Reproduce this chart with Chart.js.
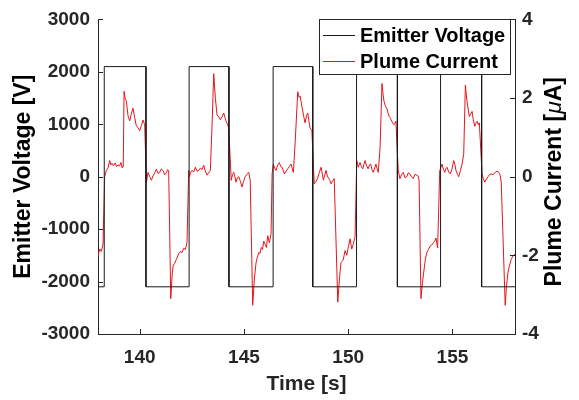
<!DOCTYPE html>
<html>
<head>
<meta charset="utf-8">
<script src="https://cdn.jsdelivr.net/npm/chart.js@4.4.1/dist/chart.umd.min.js"></script>
<style>
  body { margin: 0; background: #fff; }
  #wrap { width: 579px; height: 400px; }
</style>
</head>
<body>
<div id="wrap"><canvas id="Chart" width="579" height="400"></canvas></div>
<script>
// Emitter voltage square wave (V)
const voltTime = [138, 138.3, 138.3, 140.3, 140.3, 142.37, 142.37, 144.28, 144.28, 146.4, 146.4,
  148.3, 148.3, 150.4, 150.4, 152.36, 152.36, 154.43, 154.43, 156.4, 156.4, 158]
const voltValue = [-2100, -2100, 2100, 2100, -2100, -2100, 2100, 2100, -2100, -2100, 2100,
  2100, -2100, -2100, 2100, 2100, -2100, -2100, 2100, 2100, -2100, -2100]

// Plume current (uA)
const currTime = [
  138.00, 138.08, 138.16, 138.24, 138.32, 138.40, 138.48, 138.56, 138.62, 138.67, 138.74, 138.82, 138.89, 138.96,
  139.03, 139.10, 139.16, 139.21, 139.25, 139.30, 139.36, 139.44, 139.52, 139.60, 139.68, 139.76, 139.84, 139.92,
  140.00, 140.08, 140.16, 140.24, 140.32, 140.40, 140.48, 140.56, 140.64, 140.72, 140.80, 140.88, 140.96, 141.04,
  141.12, 141.20, 141.28, 141.34, 141.39, 141.49, 141.55, 141.60, 141.68, 141.76, 141.88, 141.96, 142.03, 142.11,
  142.19, 142.27, 142.35, 142.38, 142.44, 142.51, 142.59, 142.67, 142.75, 142.83, 142.91, 142.99, 143.07, 143.15,
  143.23, 143.31, 143.39, 143.47, 143.55, 143.63, 143.71, 143.79, 143.87, 143.95, 144.03, 144.09, 144.14, 144.20,
  144.27, 144.39, 144.45, 144.51, 144.56, 144.62, 144.68, 144.75, 144.83, 144.91, 144.98, 145.06, 145.14, 145.23,
  145.30, 145.42, 145.50, 145.58, 145.64, 145.71, 145.77, 145.83, 145.89, 145.95, 146.02, 146.08, 146.14, 146.22,
  146.30, 146.35, 146.41, 146.47, 146.54, 146.62, 146.70, 146.76, 146.83, 146.94, 147.02, 147.10, 147.18, 147.26,
  147.32, 147.37, 147.46, 147.58, 147.64, 147.70, 147.76, 147.82, 147.88, 147.93, 148.00, 148.06, 148.12, 148.17,
  148.26, 148.37, 148.45, 148.53, 148.61, 148.70, 148.76, 148.81, 148.88, 148.94, 149.00, 149.07, 149.12, 149.18,
  149.26, 149.33, 149.50, 149.58, 149.65, 149.71, 149.76, 149.85, 149.93, 150.01, 150.09, 150.17, 150.24, 150.33,
  150.41, 150.48, 150.57, 150.63, 150.70, 150.76, 150.81, 150.88, 150.96, 151.02, 151.08, 151.14, 151.20, 151.27,
  151.33, 151.39, 151.44, 151.53, 151.62, 151.67, 151.72, 151.78, 151.85, 151.91, 151.97, 152.03, 152.09, 152.15,
  152.20, 152.25, 152.29, 152.40, 152.48, 152.56, 152.64, 152.72, 152.81, 152.88, 152.96, 153.04, 153.12, 153.20,
  153.29, 153.35, 153.40, 153.49, 153.56, 153.64, 153.70, 153.77, 153.85, 153.92, 154.00, 154.08, 154.15, 154.21,
  154.29, 154.39, 154.45, 154.50, 154.57, 154.63, 154.68, 154.74, 154.82, 154.90, 154.98, 155.06, 155.12, 155.17,
  155.24, 155.30, 155.38, 155.46, 155.54, 155.62, 155.66, 155.70, 155.76, 155.81, 155.88, 155.94, 156.00, 156.07,
  156.12, 156.18, 156.24, 156.29, 156.42, 156.48, 156.55, 156.63, 156.71, 156.78, 156.86, 156.95, 157.05, 157.14,
  157.22, 157.28, 157.34, 157.53, 157.59, 157.66, 157.74, 157.82, 157.90, 158.00]
const currValue = [
  -2.02, -1.84, -1.90, -1.72, 0.00, 0.16, 0.22, 0.41, 0.30, 0.34, 0.28, 0.35, 0.26, 0.30,
  0.27, 0.36, 0.22, 0.26, 2.17, 2.00, 1.92, 1.55, 1.42, 1.60, 1.74, 1.50, 1.29, 1.25,
  1.17, 1.30, 1.44, 1.32, -0.14, 0.11, 0.00, -0.09, 0.02, 0.10, 0.19, 0.08, 0.11, 0.20,
  0.15, 0.05, 0.10, 0.18, 0.15, -3.10, -2.55, -2.27, -2.20, -2.10, -1.95, -1.90, -1.93, -1.82,
  -1.85, -1.67, 0.16, 0.00, 0.10, 0.16, 0.12, 0.24, 0.14, 0.16, 0.22, 0.18, 0.29, 0.14,
  0.04, 0.10, 0.16, 1.32, 2.62, 1.99, 1.57, 1.52, 1.45, 1.52, 1.62, 1.50, 1.41, 1.35,
  1.24, -0.09, 0.05, 0.11, 0.02, -0.14, -0.03, 0.00, -0.12, -0.26, -0.12, 0.00, 0.06, 0.11,
  -0.09, -3.27, -2.60, -2.19, -2.05, -1.93, -1.95, -1.80, -1.85, -1.64, -1.72, -1.80, -1.50, -1.68,
  -1.45, 0.07, 0.32, 0.22, 0.16, 0.30, 0.36, 0.26, 0.24, 0.07, 0.14, 0.20, 0.26, 0.32,
  0.20, 0.11, 0.91, 2.16, 2.02, 2.04, 1.85, 1.67, 1.50, 1.37, 1.55, 1.62, 1.40, 1.24,
  1.17, -0.18, -0.12, -0.05, 0.10, 0.24, 0.06, -0.09, 0.05, 0.16, 0.02, -0.05, -0.10, -0.18,
  -0.10, -0.05, -3.19, -2.60, -2.19, -2.15, -2.12, -1.88, -2.00, -1.78, -1.58, -1.84, -1.72, -1.52,
  0.41, 0.24, 0.36, 0.26, 0.20, 0.32, 0.41, 0.28, 0.20, 0.30, 0.32, 0.18, 0.11, 0.22,
  0.32, 0.20, 0.11, 0.74, 2.37, 2.10, 1.91, 1.80, 1.74, 1.62, 1.53, 1.48, 1.41, 1.35,
  1.32, 1.38, 1.41, 0.16, -0.05, 0.05, 0.11, -0.02, 0.00, 0.10, 0.07, 0.00, -0.05, 0.06,
  0.04, 0.02, -0.09, -3.10, -2.70, -2.35, -2.10, -1.93, -1.85, -1.77, -1.74, -1.68, -1.64, -1.56,
  -1.81, 0.16, 0.24, 0.32, 0.18, 0.11, 0.20, 0.24, 0.12, 0.07, 0.20, 0.41, 0.30, 0.16,
  0.06, 0.00, 0.15, 0.32, 0.57, 2.33, 2.10, 1.91, 1.70, 1.53, 1.60, 1.66, 1.45, 1.28,
  1.36, 1.41, 1.32, 1.37, 0.07, -0.05, -0.14, -0.06, 0.00, 0.05, 0.07, 0.05, 0.11, 0.14,
  0.11, 0.05, -0.14, -3.27, -2.80, -2.44, -2.25, -2.10, -2.02, -1.97]

const xTicks = [140, 145, 150, 155]
const voltTicks = [-3000, -2000, -1000, 0, 1000, 2000, 3000]
const currTicks = [-4, -2, 0, 2, 4]

const axisColor = '#262626'
const fontFamily = 'Liberation Sans, Arial, sans-serif'
const tickFont = { family: fontFamily, size: 19, weight: 'bold' }

function toPoints(xs, ys) {
    return xs.map((x, i) => ({ x: x, y: ys[i] }))
}
function fixTicks(list) {
    return function (scale) { scale.ticks = list.map(v => ({ value: v })) }
}

// MATLAB style ticks pointing into the plot, right axis title (read upwards, italic mu) and the boxed legend
const matlabBits = {
    id: 'matlabBits',
    afterDraw(chart) {
        const ctx = chart.ctx
        const len = 5
        ctx.save()
        ctx.strokeStyle = axisColor
        ctx.lineWidth = 1
        const sx = chart.scales.x, sy = chart.scales.y, sy1 = chart.scales.y1
        ctx.beginPath()
        sx.ticks.forEach(t => {
            const px = Math.round(sx.getPixelForValue(t.value)) + 0.5
            ctx.moveTo(px, sx.top); ctx.lineTo(px, sx.top - len)
        })
        sy.ticks.forEach(t => {
            const py = Math.round(sy.getPixelForValue(t.value)) + 0.5
            ctx.moveTo(sy.right, py); ctx.lineTo(sy.right + len, py)
        })
        sy1.ticks.forEach(t => {
            const py = Math.round(sy1.getPixelForValue(t.value)) + 0.5
            ctx.moveTo(sy1.left, py); ctx.lineTo(sy1.left - len, py)
        })
        ctx.stroke()

        // right axis title
        const parts = [
            ['Plume Current [', 'bold 23px ' + fontFamily],
            ['μ', 'italic 23px ' + fontFamily],
            ['A]', 'bold 23px ' + fontFamily]
        ]
        let total = 0
        parts.forEach(p => { ctx.font = p[1]; total += ctx.measureText(p[0]).width })
        ctx.translate(555, (chart.chartArea.top + chart.chartArea.bottom) / 2 + 5)
        ctx.rotate(-Math.PI / 2)
        ctx.fillStyle = '#000'
        ctx.textBaseline = 'middle'
        ctx.textAlign = 'left'
        let cx = -total / 2
        parts.forEach(p => {
            ctx.font = p[1]
            ctx.fillText(p[0], cx, 0)
            cx += ctx.measureText(p[0]).width
        })
        ctx.setTransform(1, 0, 0, 1, 0, 0)

        // legend box
        const bx = 319.5, by = 19.5, bw = 191, bh = 55
        ctx.fillStyle = '#fff'
        ctx.fillRect(bx, by, bw, bh)
        ctx.strokeStyle = axisColor
        ctx.strokeRect(bx, by, bw, bh)
        ctx.font = 'bold 20px ' + fontFamily
        ctx.textBaseline = 'middle'
        ctx.textAlign = 'left'
        chart.data.datasets.forEach((ds, i) => {
            const ly = 35.5 + i * 26
            ctx.strokeStyle = ds.borderColor
            ctx.beginPath()
            ctx.moveTo(323, ly); ctx.lineTo(355, ly)
            ctx.stroke()
            ctx.fillStyle = '#000'
            ctx.fillText(ds.label, 360, ly + 1)
        })
        ctx.restore()
    }
}

const ctx = document.getElementById('Chart').getContext('2d')
const myChart = new Chart(ctx, {
    type: 'line',
    data: {
        datasets: [{
            label: 'Emitter Voltage',
            data: toPoints(voltTime, voltValue),
            borderColor: '#1a1a1a',
            borderWidth: 1,
            pointRadius: 0,
            yAxisID: 'y'
        }, {
            label: 'Plume Current',
            data: toPoints(currTime, currValue),
            borderColor: '#e8141c',
            borderWidth: 1,
            pointRadius: 0,
            yAxisID: 'y1'
        }]
    },
    options: {
        responsive: false,
        animation: false,
        layout: { padding: { top: 15 } },
        plugins: { legend: { display: false }, tooltip: { enabled: false } },
        scales: {
            x: {
                type: 'linear',
                min: 138, max: 158,
                afterBuildTicks: fixTicks(xTicks),
                afterFit(scale) { scale.height = 66 },
                grid: { display: false, drawTicks: false },
                border: { color: axisColor, width: 1 },
                ticks: { color: axisColor, font: tickFont, padding: 12, callback: v => String(v) },
                title: {
                    display: true, text: 'Time [s]', color: axisColor,
                    font: { family: fontFamily, size: 21, weight: 'bold' },
                    padding: { bottom: 3 }
                }
            },
            y: {
                position: 'left',
                min: -3000, max: 3000,
                afterBuildTicks: fixTicks(voltTicks),
                afterFit(scale) { scale.width = 98 },
                grid: { display: false, drawTicks: false },
                border: { color: axisColor, width: 1 },
                ticks: { color: axisColor, font: tickFont, padding: 8, callback: v => String(v) },
                title: {
                    display: true, text: 'Emitter Voltage [V]', color: '#000',
                    font: { family: fontFamily, size: 23, weight: 'bold' },
                    padding: { top: 10 }
                }
            },
            y1: {
                position: 'right',
                min: -4, max: 4,
                afterBuildTicks: fixTicks(currTicks),
                afterFit(scale) { scale.width = 64 },
                grid: { display: false, drawTicks: false },
                border: { color: axisColor, width: 1 },
                ticks: { color: axisColor, font: tickFont, padding: 7, callback: v => String(v) }
            }
        }
    },
    plugins: [matlabBits]
})
</script>
</body>
</html>
